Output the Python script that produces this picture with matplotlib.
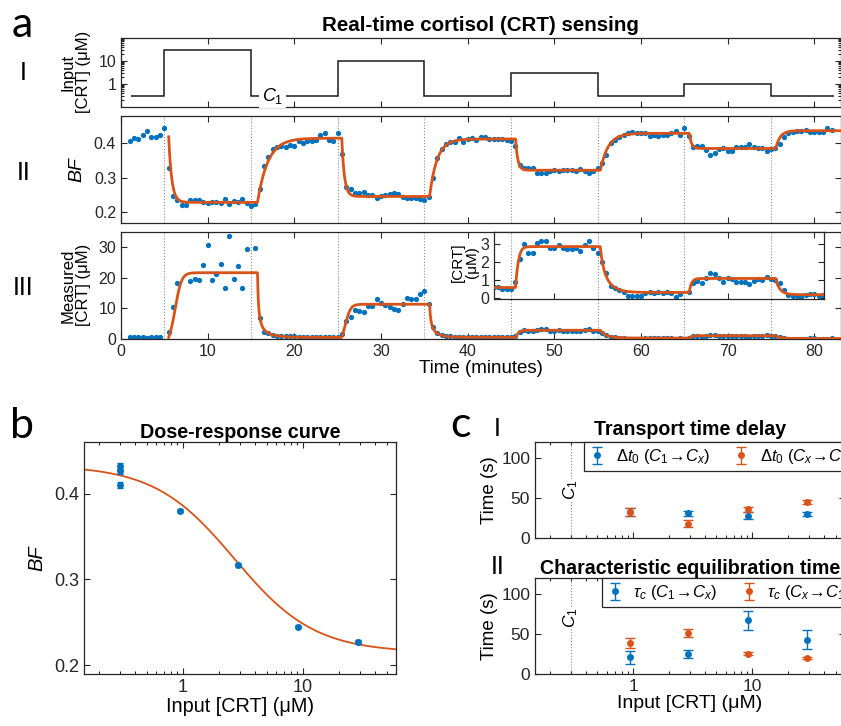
import numpy as np
import matplotlib
matplotlib.use('Agg')
import matplotlib.pyplot as plt
from matplotlib.ticker import LogLocator, NullFormatter, FixedLocator

plt.rcParams['font.family'] = ['Liberation Sans', 'DejaVu Sans']
plt.rcParams['mathtext.fontset'] = 'custom'
plt.rcParams['mathtext.rm'] = 'Liberation Sans'
plt.rcParams['mathtext.it'] = 'Liberation Sans:italic'
plt.rcParams['mathtext.bf'] = 'Liberation Sans:bold'

BLUE = '#0072BD'
ORANGE = '#D95319'
DARK = '#262626'

# ---------------- data ----------------
# panel a: input steps (min) and concentrations (uM)
step_t = [5, 15, 25, 35, 45, 55, 65, 75]
input_edges = [1.2] + step_t + [82.3]
input_levels = [0.3, 30, 0.3, 10, 0.3, 3, 0.3, 1, 0.3]

# sampled signal, one point every 0.5 min from 1.0 to 82.0 min
sample_t = np.arange(1.0, 82.01, 0.5)
bf_meas = [
    0.408, 0.416, 0.412, 0.424, 0.436, 0.419, 0.419, 0.424, 0.444,
    0.329, 0.248, 0.236, 0.221, 0.221, 0.236, 0.236, 0.236, 0.231, 0.228,
    0.231, 0.231, 0.228, 0.238, 0.224, 0.234, 0.231, 0.238, 0.226, 0.219,
    0.224, 0.267, 0.334, 0.361, 0.384, 0.390, 0.392, 0.390, 0.395, 0.393,
    0.408, 0.400, 0.408, 0.408, 0.410, 0.424, 0.431, 0.410, 0.408, 0.429,
    0.368, 0.274, 0.268, 0.257, 0.257, 0.258, 0.250, 0.250, 0.243, 0.247,
    0.250, 0.253, 0.255, 0.253, 0.245, 0.241, 0.241, 0.241, 0.238, 0.236,
    0.245, 0.300, 0.358, 0.384, 0.398, 0.403, 0.405, 0.414, 0.405, 0.412,
    0.414, 0.410, 0.419, 0.417, 0.412, 0.412, 0.412, 0.412, 0.410, 0.408,
    0.393, 0.337, 0.328, 0.328, 0.329, 0.315, 0.313, 0.313, 0.321, 0.323,
    0.321, 0.323, 0.323, 0.323, 0.321, 0.325, 0.321, 0.315, 0.321, 0.328,
    0.344, 0.366, 0.402, 0.410, 0.419, 0.424, 0.429, 0.432, 0.431, 0.429,
    0.429, 0.421, 0.424, 0.421, 0.424, 0.424, 0.429, 0.437, 0.424, 0.443,
    0.421, 0.390, 0.392, 0.392, 0.381, 0.366, 0.371, 0.384, 0.387, 0.379,
    0.379, 0.390, 0.390, 0.390, 0.397, 0.388, 0.386, 0.386, 0.378, 0.384,
    0.386, 0.398, 0.417, 0.429, 0.434, 0.436, 0.437, 0.439, 0.432, 0.434,
    0.434, 0.432, 0.443, 0.440,
]
nan = np.nan
crt_meas = [
    0.6, 0.6, 0.6, 0.5, 0.3, 0.5, 0.5, 0.5, nan,
    2.4, 10.5, 18.3, nan, nan, 18.9, 19.7, 19.2, 24.1, 30.8,
    19.2, 21.3, 24.6, 16.7, 33.5, 19.5, 23.8, 16.5, 29.5, nan,
    29.8, 7.0, 2.4, 1.8, 1.3, 1.1, 1.0, 1.0, 0.9, 0.9,
    0.8, 0.8, 0.8, 0.7, 0.7, 0.6, 0.5, 0.7, 0.7, 0.5,
    1.5, 6.0, 7.3, 9.4, 9.2, 8.7, 10.7, 10.7, 12.9, 11.9,
    11.1, 10.3, 9.8, 9.4, 11.4, 13.5, 13.2, 12.9, 14.8, 15.8,
    11.4, 3.8, 1.8, 1.3, 1.0, 0.9, 0.8, 0.6, 0.8, 0.6,
    0.6, 0.6, 0.5, 0.5, 0.6, 0.6, 0.6, 0.5, 0.5, 0.5,
    0.86, 2.17, 2.99, 2.52, 2.49, 3.08, 3.14, 3.18, 2.77, 2.77,
    2.92, 2.77, 2.71, 2.71, 2.77, 2.62, 2.92, 3.14, 2.77, 2.52,
    1.98, 1.40, 0.65, 0.56, 0.43, 0.34, 0.12, 0.10, 0.10, 0.10,
    0.28, 0.32, 0.28, 0.30, 0.28, 0.30, 0.28, 0.02, 0.20, nan,
    0.30, 0.84, 0.93, 0.80, 1.08, 1.40, 1.33, 1.08, 0.90, 1.08,
    1.05, 0.90, 0.90, 0.90, 0.75, 0.95, 1.03, 0.99, 1.18, 1.05,
    0.99, 0.80, 0.43, 0.15, 0.09, 0.09, 0.05, 0.15, 0.20, 0.20,
    0.09, 0.15, 0.10, 0.30,
]

# fit of the BF trace: plateau per segment and time constant per step (min)
fit_bf_levels = [0.419, 0.229, 0.415, 0.246, 0.4125, 0.322, 0.429, 0.385, 0.4365]
fit_bf_tau = [0.35, 1.2, 0.3, 0.85, 0.25, 0.9, 0.25, 0.5]
# BF -> concentration conversion used for panel a III
conv_top, conv_bot, conv_ec50, conv_n = 0.445, 0.212, 2.6, 1.2

# panel b: dose-response
dose_conc = [0.3, 0.3, 0.3, 0.94, 2.9, 9.2, 29]
dose_bf = [0.432, 0.426, 0.410, 0.380, 0.317, 0.245, 0.227]
dose_err = [0.003, 0.003, 0.003, 0.002, 0.002, 0.002, 0.002]
hill_top, hill_bot, hill_ec50, hill_n = 0.433, 0.215, 2.7, 1.3

# panel c: time constants (s)
c_conc = [0.94, 2.9, 9.2, 29]
c1_level = 0.3
dt0_up = [33, 31, 28, 30]
dt0_up_err = [5, 3, 4, 3]
dt0_down = [32, 18, 36, 45]
dt0_down_err = [5, 4, 3, 2]
tau_up = [21, 25, 67, 43]
tau_up_err = [8, 5, 12, 12]
tau_down = [39, 51, 25.5, 20]
tau_down_err = [6, 5, 1.5, 1.5]

# transport delay for each step in step_t order (30, 10, 3, 1 uM)
step_delay = [dt0_up[3], dt0_down[3], dt0_up[2], dt0_down[2],
              dt0_up[1], dt0_down[1], dt0_up[0], dt0_down[0]]


def bf_fit(t):
    out = np.full_like(t, np.nan)
    start = fit_bf_levels[0]
    for i, ts in enumerate(step_t):
        t0 = ts + step_delay[i] / 60
        t1 = step_t[i + 1] + step_delay[i + 1] / 60 if i + 1 < len(step_t) else np.inf
        new = fit_bf_levels[i + 1]
        m = (t >= t0) & (t < t1)
        out[m] = new + (start - new) * np.exp(-(t[m] - t0) / fit_bf_tau[i])
        if np.isfinite(t1):
            start = new + (start - new) * np.exp(-(t1 - t0) / fit_bf_tau[i])
    return out


def bf_to_conc(bf):
    return conv_ec50 * ((conv_top - bf) / (bf - conv_bot)) ** (1 / conv_n)


def hill(x):
    return hill_bot + (hill_top - hill_bot) / (1 + (x / hill_ec50) ** hill_n)


# ---------------- figure ----------------
W, H = 841, 726
fig = plt.figure(figsize=(W / 100, H / 100), dpi=100)


def rect(x0, x1, y0, y1):
    return [x0 / W, 1 - y1 / H, (x1 - x0) / W, (y1 - y0) / H]


def style(ax, size):
    for s in ax.spines.values():
        s.set_linewidth(0.9)
        s.set_color(DARK)
    ax.tick_params(which='both', direction='in', top=True, right=True,
                   width=0.8, labelsize=size, colors=DARK)
    ax.tick_params(which='major', length=4)
    ax.tick_params(which='minor', length=2)


t_fit = np.linspace(0, 83, 4000)
bf_curve = bf_fit(t_fit)
crt_curve = bf_to_conc(bf_curve)
XMAX = 83.0

# ---- a I ----
axI = fig.add_axes(rect(121, 840.5, 37.7, 106.7))
axI.stairs(input_levels, input_edges, baseline=None, color='#1a1a1a', lw=1.1)
axI.set_yscale('log')
axI.set_ylim(0.1, 100)
axI.set_xlim(0, XMAX)
axI.yaxis.set_major_locator(FixedLocator([1, 10]))
axI.set_yticklabels(['1', '10'])
axI.yaxis.set_minor_locator(LogLocator(subs=np.arange(2, 10)))
axI.yaxis.set_minor_formatter(NullFormatter())
axI.set_xticks(range(0, 81, 10))
axI.set_xticklabels([])
style(axI, 11.5)
axI.text(17.5, 0.3, r'$C_1$', ha='center', va='center', fontsize=13,
         bbox=dict(fc='white', ec='none', pad=2))
axI.set_ylabel('Input\n[CRT] (μM)', fontsize=12, linespacing=1.0)
axI.yaxis.set_label_coords(-0.042, 0.5)
axI.set_title('Real-time cortisol (CRT) sensing', fontsize=14.8,
              fontweight='bold', pad=5)

# ---- a II ----
axII = fig.add_axes(rect(121, 840.5, 115.7, 222.7))
for ts in step_t:
    axII.axvline(ts, color='#8c8c8c', ls=':', lw=0.8, zorder=0)
axII.plot(sample_t, bf_meas, 'o', color=BLUE, ms=3.8, mec='none', zorder=2)
axII.plot(t_fit, bf_curve, color=ORANGE, lw=2, zorder=3)
axII.set_xlim(0, XMAX)
axII.set_ylim(0.17, 0.48)
axII.set_yticks([0.2, 0.3, 0.4])
axII.set_xticks(range(0, 81, 10))
axII.set_xticklabels([])
style(axII, 11.5)
axII.set_ylabel('BF', fontsize=14, style='italic')
axII.yaxis.set_label_coords(-0.05, 0.5)

# ---- a III ----
axIII = fig.add_axes(rect(121, 840.5, 231.7, 339))
for ts in step_t:
    axIII.axvline(ts, color='#8c8c8c', ls=':', lw=0.8, zorder=0)
axIII.plot(sample_t, crt_meas, 'o', color=BLUE, ms=3.8, mec='none', zorder=2)
axIII.plot(t_fit, crt_curve, color=ORANGE, lw=2, zorder=3)
axIII.set_xlim(0, XMAX)
axIII.set_ylim(0, 35)
axIII.set_yticks([0, 10, 20, 30])
axIII.set_xticks(range(0, 81, 10))
style(axIII, 11.5)
axIII.set_ylabel('Measured\n[CRT] (μM)', fontsize=12, linespacing=1.0)
axIII.yaxis.set_label_coords(-0.042, 0.5)
axIII.set_xlabel('Time (minutes)', fontsize=13.5, labelpad=1)

# inset
axin = fig.add_axes(rect(494, 824.3, 232.3, 299))
axin.set_zorder(5)
for ts in step_t:
    axin.axvline(ts, color='#8c8c8c', ls=':', lw=0.8, zorder=0)
axin.plot(sample_t, crt_meas, 'o', color=BLUE, ms=3.8, mec='none', zorder=2)
axin.plot(t_fit, crt_curve, color=ORANGE, lw=2, zorder=3)
axin.set_xlim(43.04, 81.15)
axin.set_ylim(-0.07, 3.65)
axin.set_yticks([0, 1, 2, 3])
axin.set_xticks([50, 60, 70, 80])
axin.set_xticklabels([])
style(axin, 11.5)
axin.set_ylabel('[CRT]\n(μM)', fontsize=11, linespacing=1.0)
axin.yaxis.set_label_coords(-0.045, 0.55)

# ---- b ----
axb = fig.add_axes(rect(84, 396, 442, 674))
xb = np.logspace(np.log10(0.15), np.log10(60), 300)
axb.plot(xb, hill(xb), color=ORANGE, lw=1.3, zorder=2)
axb.errorbar(dose_conc, dose_bf, yerr=dose_err, fmt='o', color=BLUE, ms=5,
             mec='none', capsize=2.5, elinewidth=1, zorder=3)
axb.set_xscale('log')
axb.set_xlim(0.15, 60)
axb.set_ylim(0.19, 0.46)
axb.set_yticks([0.2, 0.3, 0.4])
axb.xaxis.set_major_locator(FixedLocator([1, 10]))
axb.set_xticklabels(['1', '10'])
axb.xaxis.set_minor_locator(LogLocator(subs=np.arange(2, 10)))
axb.xaxis.set_minor_formatter(NullFormatter())
style(axb, 13)
axb.set_ylabel('BF', fontsize=14.5, style='italic')
axb.yaxis.set_label_coords(-0.12, 0.5)
axb.set_xlabel('Input [CRT] (μM)', fontsize=14.3, labelpad=1)
axb.set_title('Dose-response curve', fontsize=14.2, fontweight='bold', pad=3)

# ---- c ----
c_panels = [
    (rect(535, 845, 442, 538), dt0_up, dt0_up_err, dt0_down, dt0_down_err,
     r'$\Delta t_0\ (C_1\!\rightarrow\!C_x)$', r'$\Delta t_0\ (C_x\!\rightarrow\!C_1)$',
     'Transport time delay', 0.158, 5, 60),
    (rect(535, 845, 578, 674), tau_up, tau_up_err, tau_down, tau_down_err,
     r'$\tau_c\ (C_1\!\rightarrow\!C_x)$', r'$\tau_c\ (C_x\!\rightarrow\!C_1)$',
     'Characteristic equilibration time', 0.215, 3, 70),
]
for k, (pos, up, up_e, dn, dn_e, lab_up, lab_dn, title, leg_x, tpad, c1_y) in enumerate(c_panels):
    ax = fig.add_axes(pos)
    ax.axvline(c1_level, color='#8c8c8c', ls=':', lw=0.8, zorder=0)
    ax.text(c1_level, c1_y, r'$C_1$', rotation=90, ha='center', va='center',
            fontsize=12.5, zorder=1, bbox=dict(fc='white', ec='none', pad=0.5))
    ax.errorbar(c_conc, up, yerr=up_e, fmt='o', color=BLUE, ms=5, mec='none',
                capsize=3.5, elinewidth=1, label=lab_up)
    ax.errorbar(c_conc, dn, yerr=dn_e, fmt='o', color=ORANGE, ms=5, mec='none',
                capsize=3.5, elinewidth=1, label=lab_dn)
    ax.set_xscale('log')
    ax.set_xlim(0.15, 60)
    ax.set_ylim(0, 120)
    ax.set_yticks([0, 50, 100])
    ax.xaxis.set_major_locator(FixedLocator([1, 10]))
    ax.xaxis.set_minor_locator(LogLocator(subs=np.arange(2, 10)))
    ax.xaxis.set_minor_formatter(NullFormatter())
    if k == 0:
        ax.set_xticklabels([])
    else:
        ax.set_xticklabels(['1', '10'])
        ax.set_xlabel('Input [CRT] (μM)', fontsize=14, labelpad=1)
    style(ax, 12.5)
    ax.set_ylabel('Time (s)', fontsize=13.5)
    ax.yaxis.set_label_coords(-0.12, 0.5)
    ax.set_title(title, fontsize=14.1, fontweight='bold', pad=tpad)
    leg = ax.legend(loc='upper left', bbox_to_anchor=(leg_x, 1.0), ncol=2,
                    fontsize=12, frameon=True, fancybox=False, framealpha=1,
                    edgecolor=DARK, borderaxespad=0, handlelength=1.0,
                    handletextpad=0.6, columnspacing=1.4, borderpad=0.3)
    leg.get_frame().set_linewidth(0.9)

# panel letters and roman numerals
fig.text(12 / W, 1 - 37 / H, 'a', fontsize=31, family='Lato', va='baseline')
fig.text(10 / W, 1 - 438 / H, 'b', fontsize=31, family='Lato', va='baseline')
fig.text(450 / W, 1 - 437 / H, 'c', fontsize=31, family='Lato', va='baseline')
for txt, x, y in [('I', 23, 80), ('II', 24, 180), ('III', 23, 295),
                  ('I', 497, 436), ('II', 498, 574)]:
    fig.text(x / W, 1 - y / H, txt, fontsize=18, family='Lato',
             ha='center', va='baseline')

fig.savefig('out.png', dpi=100)
